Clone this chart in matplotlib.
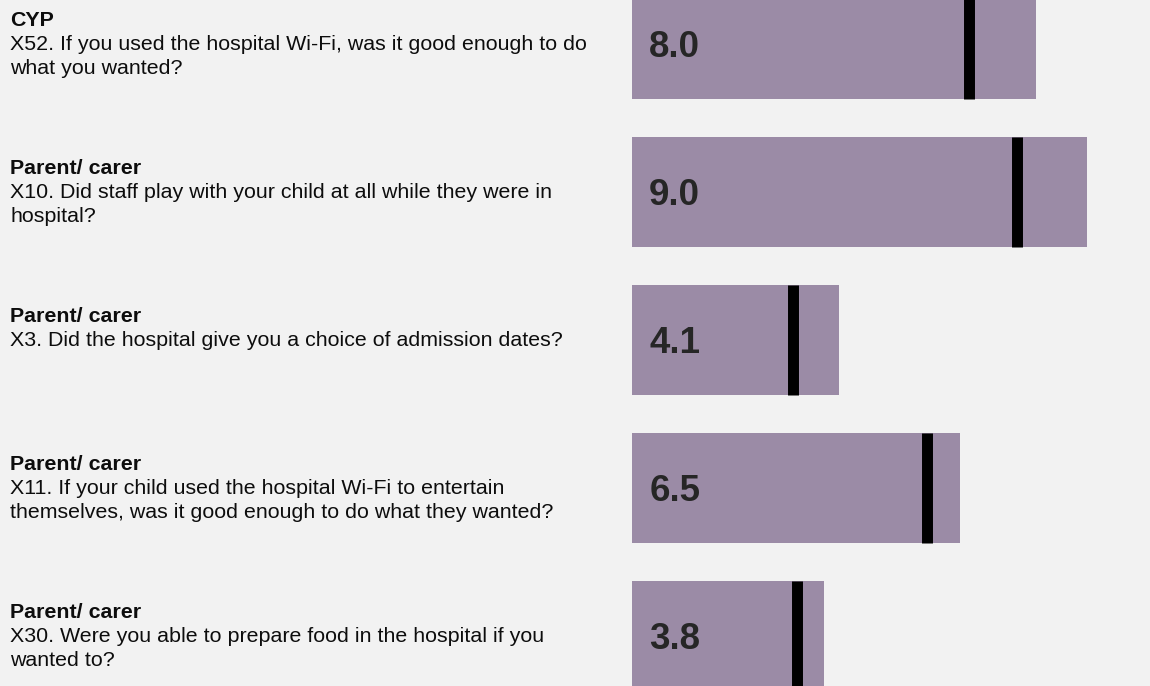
import matplotlib.pyplot as plt
from matplotlib.transforms import blended_transform_factory

# Datos del gráfico
grupos = ['CYP', 'Parent/ carer', 'Parent/ carer', 'Parent/ carer', 'Parent/ carer']
preguntas = [
    'X52. If you used the hospital Wi-Fi, was it good enough to do\nwhat you wanted?',
    'X10. Did staff play with your child at all while they were in\nhospital?',
    'X3. Did the hospital give you a choice of admission dates?',
    'X11. If your child used the hospital Wi-Fi to entertain\nthemselves, was it good enough to do what they wanted?',
    'X30. Were you able to prepare food in the hospital if you\nwanted to?',
]
puntuaciones = [8.0, 9.0, 4.1, 6.5, 3.8]
referencias = [6.67, 7.63, 3.18, 5.85, 3.27]  # posición de la línea negra

fondo = '#f2f2f2'
color_barra = '#9b8ba6'

plt.rcParams['font.family'] = ['Liberation Sans', 'DejaVu Sans']

fig = plt.figure(figsize=(11.5, 6.86), dpi=100, facecolor=fondo)
ax = fig.add_axes([632 / 1150, 0, 1 - 632 / 1150, 1])
ax.set_facecolor(fondo)

posiciones = list(range(len(puntuaciones)))
alto = 0.743

ax.barh(posiciones, puntuaciones, height=alto, color=color_barra, linewidth=0)
ax.vlines(referencias, [p - alto / 2 for p in posiciones], [p + alto / 2 for p in posiciones],
          color='black', linewidth=7.9)

for p, v in zip(posiciones, puntuaciones):
    ax.text(0.34, p + 0.085, f'{v:.1f}', fontsize=26.5, fontweight='bold',
            color='#262626', va='baseline', ha='left')

ax.set_xlim(0, 518 / 50.5)
ax.set_ylim(642 / 148, -44 / 148)
ax.axis('off')

# Textos de la izquierda (una línea por texto)
trans = blended_transform_factory(fig.transFigure, ax.transData)
paso = 24.5 / 148
for p, g, q in zip(posiciones, grupos, preguntas):
    base = p - 0.125
    ax.text(10 / 1150, base, g, transform=trans, fontsize=15.4,
            fontweight='bold', color='#0d0d0d', va='baseline', ha='left')
    for k, linea in enumerate(q.split('\n')):
        ax.text(10 / 1150, base + paso * (k + 1), linea, transform=trans, fontsize=15.4,
                color='#0d0d0d', va='baseline', ha='left')

plt.savefig('out.png', dpi=100, facecolor=fondo)
